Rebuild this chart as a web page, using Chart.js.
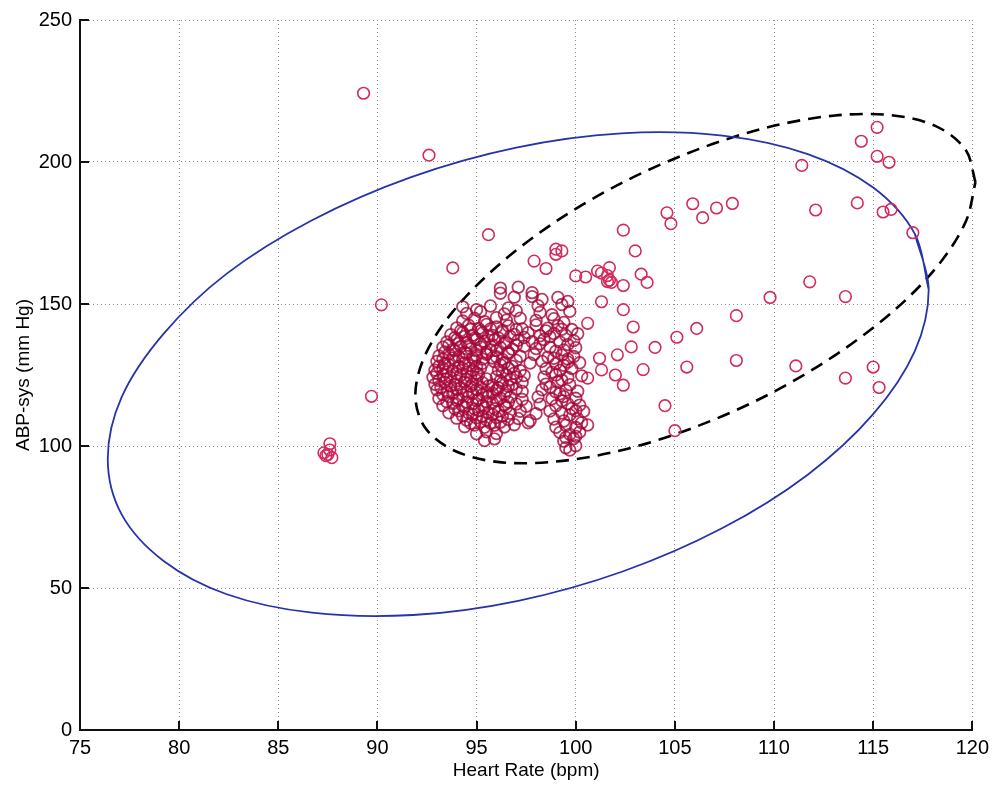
<!DOCTYPE html>
<html>
<head>
<meta charset="utf-8">
<script src="https://cdn.jsdelivr.net/npm/chart.js@4/dist/chart.umd.min.js"></script>
<style>
  html, body { margin: 0; padding: 0; background: #ffffff; }
  canvas { display: block; }
</style>
</head>
<body>
<canvas id="chart" width="995" height="785"></canvas>
<script>
// Axis ranges and tick labels
const heartRateTicks = [75, 80, 85, 90, 95, 100, 105, 110, 115, 120];
const abpTicks = [0, 50, 100, 150, 200, 250];

// Beats lying away from the main group: [heart rate (bpm), ABP-sys (mm Hg)]
const spreadBeats = [
  [89.3, 224.2], [92.6, 202.4], [95.6, 174.4], [93.8, 162.7], [90.2, 149.7], [89.7, 117.5],
  [87.3, 97.6], [87.6, 100.8], [87.5, 97.0], [87.7, 95.9], [87.4, 96.6], [87.6, 98.6],
  [115.2, 212.2], [114.4, 207.3], [115.2, 202.0], [115.8, 199.9], [111.4, 198.8], [114.2, 185.6],
  [112.1, 183.1], [115.5, 182.4], [115.9, 183.3], [117.0, 175.1],
  [104.6, 182.1], [104.8, 178.3], [105.9, 185.3], [106.4, 180.4], [107.1, 183.8], [107.9, 185.4],
  [102.4, 176.0], [103.0, 168.7], [103.3, 160.5], [103.6, 157.6], [101.7, 162.8], [101.6, 160.0],
  [101.7, 158.4], [101.8, 157.6], [101.6, 157.9], [102.4, 156.5], [101.3, 160.9], [101.1, 161.6],
  [101.3, 150.8], [102.4, 148.0], [102.9, 141.9], [102.8, 134.9], [102.1, 132.1], [101.2, 130.9],
  [101.3, 126.8], [100.6, 123.9], [102.0, 125.0], [102.4, 121.4], [103.4, 126.9], [104.0, 134.7],
  [105.1, 138.3], [106.1, 141.4], [108.1, 145.9], [109.8, 152.3], [111.8, 157.8], [113.6, 152.6],
  [105.6, 127.8], [108.1, 130.1], [111.1, 128.2], [115.0, 127.8], [113.6, 123.9], [115.3, 120.6],
  [104.5, 114.2], [105.0, 105.4],
  [99.0, 169.3], [99.3, 168.7], [99.0, 167.5], [97.9, 165.1], [98.5, 162.5], [100.0, 159.9],
  [100.5, 159.5], [100.6, 143.2]
];

// Main group of beats around 93-101 bpm
const coreBeats = [
  [96.2, 155.6], [97.1, 155.9], [97.8, 154.0],
  [96.9, 152.4], [97.8, 152.6], [98.3, 151.6], [99.1, 152.3], [99.6, 150.9], [96.2, 153.8],
  [95.7, 149.3], [96.6, 148.6], [98.1, 149.4], [99.3, 149.8], [94.3, 149.0], [95.0, 148.0],
  [94.5, 146.7], [95.2, 147.3], [96.4, 146.5], [97.0, 147.6], [98.2, 147.0], [98.8, 146.2], [99.7, 147.4],
  [94.3, 144.0], [94.9, 144.9], [95.4, 143.8], [96.0, 145.2], [96.5, 144.3], [97.2, 145.0], [98.0, 144.2],
  [98.9, 144.8], [99.4, 143.5],
  [94.0, 141.6], [94.6, 142.5], [95.1, 141.4], [95.5, 142.8], [96.0, 141.9], [96.6, 142.3], [97.3, 141.2],
  [98.0, 142.6], [98.6, 141.5], [99.1, 142.4], [99.8, 141.0],
  [93.7, 139.2], [94.3, 140.0], [94.8, 139.0], [95.3, 139.8], [95.8, 138.9], [96.3, 140.1], [96.9, 139.3],
  [97.6, 139.9], [98.2, 138.8], [98.9, 139.6], [99.5, 138.9], [100.1, 139.5],
  [93.5, 136.6], [94.0, 137.4], [94.5, 136.5], [95.0, 137.6], [95.4, 136.8], [95.9, 137.3], [96.5, 136.4],
  [97.1, 137.2], [97.8, 136.7], [98.4, 137.5], [99.2, 136.6], [99.9, 137.1],
  [93.3, 134.8], [93.8, 134.0], [94.2, 135.0], [94.7, 134.2], [95.2, 134.9], [95.7, 133.9], [96.2, 134.7],
  [96.8, 134.1], [97.4, 135.1], [98.0, 134.3], [98.7, 134.8], [99.4, 133.8], [100.0, 134.6],
  [93.1, 131.7], [93.6, 132.4], [94.1, 131.5], [94.5, 132.6], [95.0, 131.8], [95.5, 132.3], [96.0, 131.4],
  [96.6, 132.5], [97.2, 131.6], [97.9, 132.2], [98.6, 131.3], [99.3, 132.0], [99.9, 131.5],
  [93.0, 129.8], [93.4, 129.0], [93.9, 129.9], [94.4, 129.2], [94.9, 130.0], [95.3, 129.1], [95.9, 129.7],
  [96.4, 129.3], [97.0, 130.1], [97.7, 129.2], [98.3, 129.8], [99.0, 129.0], [99.6, 129.6], [100.2, 129.3],
  [92.9, 126.7], [93.3, 127.4], [93.8, 126.5], [94.3, 127.3], [94.8, 126.6], [95.2, 127.5], [96.1, 126.8],
  [96.6, 127.4], [97.2, 126.5], [98.5, 127.2], [99.2, 126.6], [99.8, 127.3],
  [92.8, 124.2], [93.3, 125.0], [93.7, 124.1], [94.2, 124.9], [94.7, 124.3], [95.1, 125.1], [96.0, 124.4],
  [96.5, 125.0], [97.0, 124.2], [97.4, 124.8], [98.4, 124.3], [99.0, 125.0], [99.6, 124.1], [100.3, 124.7],
  [92.9, 121.7], [93.4, 122.4], [93.9, 121.6], [94.4, 122.5], [94.8, 121.8], [95.3, 122.3], [95.8, 121.5],
  [96.3, 122.2], [96.8, 121.6], [97.3, 122.4], [98.5, 121.8], [99.1, 122.5], [99.7, 121.6],
  [93.0, 119.8], [93.5, 119.1], [94.0, 120.0], [94.5, 119.2], [95.0, 119.9], [95.5, 119.0], [96.0, 119.7],
  [96.5, 119.3], [97.0, 120.1], [97.3, 119.2], [98.3, 119.8], [99.0, 119.0], [99.5, 119.6], [100.1, 119.3],
  [93.1, 116.7], [93.6, 117.4], [94.1, 116.6], [94.6, 117.3], [95.1, 116.5], [95.6, 117.5], [96.2, 116.8],
  [96.7, 117.2], [97.3, 116.4], [98.1, 117.3], [98.8, 116.6], [99.4, 117.4], [100.0, 116.8],
  [93.3, 114.2], [93.8, 115.0], [94.3, 114.1], [94.8, 114.9], [95.3, 114.3], [95.8, 115.1], [96.4, 114.4],
  [97.0, 114.8], [97.5, 114.0], [98.2, 114.7], [99.0, 114.2], [99.6, 114.9], [100.2, 114.4],
  [93.6, 111.7], [94.1, 112.4], [94.6, 111.6], [95.1, 112.5], [95.6, 111.8], [96.1, 112.3], [96.7, 111.5],
  [97.2, 112.2], [98.0, 111.4], [98.7, 112.3], [99.3, 111.6], [100.0, 112.4], [100.4, 112.2],
  [94.0, 109.8], [94.5, 109.1], [95.0, 109.9], [95.5, 109.2], [96.0, 110.0], [96.6, 109.3], [97.1, 109.7],
  [97.7, 108.9], [98.9, 109.5], [99.4, 108.8], [100.1, 109.6], [97.6, 108.2],
  [94.4, 106.8], [94.9, 107.4], [95.4, 106.6], [95.9, 107.3], [96.4, 106.7], [96.9, 107.5], [99.0, 106.6],
  [99.5, 107.3], [100.0, 106.5], [100.6, 107.4],
  [95.0, 104.3], [95.5, 105.0], [96.0, 104.4], [99.2, 104.8], [99.7, 104.1], [100.2, 104.9],
  [95.4, 101.9], [95.9, 102.5], [99.4, 101.7], [99.9, 102.6],
  [99.5, 99.4], [100.0, 100.1], [99.7, 98.6],
  // second, interleaved pass through the densest part
  [94.2, 140.6], [94.7, 141.1], [95.2, 140.5], [95.7, 141.2], [96.3, 140.7], [97.0, 141.0], [98.5, 140.5], [99.3, 141.1],
  [93.9, 138.1], [94.4, 138.6], [94.9, 138.0], [95.6, 138.5], [96.1, 138.0], [96.7, 138.6], [97.4, 138.2], [98.7, 138.5],
  [93.6, 135.6], [94.1, 136.1], [94.6, 135.5], [95.2, 136.0], [95.8, 135.6], [96.4, 136.1], [97.0, 135.5], [98.2, 136.0], [99.6, 135.7],
  [93.4, 133.1], [93.9, 133.6], [94.4, 133.0], [95.0, 133.5], [95.5, 133.1], [96.0, 133.6], [96.6, 133.0], [99.0, 133.4],
  [93.3, 130.6], [93.8, 131.0], [94.3, 130.5], [94.8, 131.1], [95.3, 130.6], [95.8, 131.0], [96.3, 130.5], [98.9, 130.9], [99.6, 130.6],
  [93.1, 128.1], [93.6, 128.6], [94.1, 128.0], [94.6, 128.5], [95.0, 128.1], [96.2, 128.6], [96.8, 128.0], [99.4, 128.4],
  [93.0, 125.6], [93.5, 126.1], [94.0, 125.5], [94.5, 126.0], [95.0, 125.6], [96.3, 126.0], [96.9, 125.6], [98.8, 126.0],
  [93.1, 123.1], [93.5, 123.6], [94.0, 123.0], [94.5, 123.5], [95.0, 123.1], [95.5, 123.6], [96.2, 123.0], [96.7, 123.5], [99.3, 123.2],
  [93.2, 120.6], [93.7, 121.1], [94.2, 120.5], [94.7, 121.0], [95.2, 120.6], [95.6, 121.1], [96.1, 120.5], [96.6, 121.0], [98.7, 120.7],
  [93.3, 118.1], [93.8, 118.6], [94.3, 118.0], [94.8, 118.5], [95.3, 118.1], [95.8, 118.6], [96.4, 118.0], [99.2, 118.4],
  [93.5, 115.6], [94.0, 116.1], [94.5, 115.5], [95.0, 116.0], [95.5, 115.6], [96.0, 116.1], [96.6, 115.5], [99.3, 115.9],
  [93.9, 113.1], [94.4, 113.6], [94.9, 113.0], [95.4, 113.5], [95.9, 113.1], [96.5, 113.6], [99.8, 113.2],
  [94.3, 110.6], [94.8, 111.0], [95.3, 110.5], [95.8, 111.1], [96.3, 110.6], [99.7, 110.9],
  [94.7, 108.0], [95.2, 108.5], [95.7, 108.1], [96.2, 108.4], [100.3, 108.2],
  [99.5, 103.0], [100.0, 103.4]
];

// Outline of the wide region (solid), points taken around the curve
const wideRegion = [
  [117.8, 155.1], [117.1, 174.7], [115.0, 191.0], [111.7, 202.8], [107.4, 209.3], [102.3, 210.1],
  [97.0, 205.1], [91.7, 194.7], [86.7, 179.5], [82.4, 160.7], [79.2, 139.4], [77.1, 117.2],
  [76.4, 95.5], [77.1, 75.9], [79.2, 59.6], [82.4, 47.8], [86.7, 41.3], [91.8, 40.5],
  [97.1, 45.5], [102.4, 55.9], [107.4, 71.1], [111.7, 89.9], [115.0, 111.2], [117.1, 133.4],
  [117.8, 155.1], [117.1, 174.7]
];

// Outline of the narrow region (dashed)
const narrowRegion = [
  [120.16, 192.9], [119.67, 204.2], [118.26, 212.3], [116.02, 216.4], [113.09, 216.4], [109.69, 212.2],
  [106.03, 204.1], [102.37, 192.8], [98.97, 178.9], [96.04, 163.3], [93.8, 147.3], [92.39, 131.8],
  [91.91, 117.9], [92.39, 106.6], [93.8, 98.6], [96.04, 94.4], [98.97, 94.5], [102.37, 98.6],
  [106.03, 106.7], [109.69, 118.0], [113.09, 132.0], [116.02, 147.5], [118.26, 163.5], [119.67, 179.0],
  [120.16, 192.9]
];

const toXY = (rows) => rows.map(([x, y]) => ({ x, y }));

const FONT = "'Liberation Sans', Arial, Helvetica, sans-serif";

// Short tick marks pointing into the plot from the left and bottom axes
const inwardTicks = {
  id: 'inwardTicks',
  afterDraw(chart) {
    const { ctx, chartArea: a, scales: { x, y } } = chart;
    ctx.save();
    ctx.strokeStyle = '#111';
    ctx.lineWidth = 2;
    ctx.beginPath();
    x.ticks.forEach(t => {
      const px = Math.round(x.getPixelForValue(t.value));
      ctx.moveTo(px, a.bottom);
      ctx.lineTo(px, a.bottom - 9);
    });
    y.ticks.forEach(t => {
      const py = Math.round(y.getPixelForValue(t.value));
      ctx.moveTo(a.left, py);
      ctx.lineTo(a.left + 9, py);
    });
    ctx.stroke();
    ctx.restore();
  }
};

const whiteBackground = {
  id: 'whiteBackground',
  beforeDraw(chart) {
    const { ctx, width, height } = chart;
    ctx.save();
    ctx.fillStyle = '#ffffff';
    ctx.fillRect(0, 0, width, height);
    ctx.restore();
  }
};

new Chart(document.getElementById('chart'), {
  type: 'scatter',
  data: {
    datasets: [
      {
        label: 'core',
        data: toXY(coreBeats),
        pointStyle: 'circle',
        pointRadius: 5.8,
        pointBorderWidth: 1.8,
        pointBackgroundColor: 'rgba(0,0,0,0)',
        pointBorderColor: 'rgba(165,8,58,0.8)',
        showLine: false
      },
      {
        label: 'spread',
        data: toXY(spreadBeats),
        pointStyle: 'circle',
        pointRadius: 5.8,
        pointBorderWidth: 1.6,
        pointBackgroundColor: 'rgba(0,0,0,0)',
        pointBorderColor: 'rgb(212,42,92)',
        showLine: false
      },
      {
        label: 'wide',
        data: toXY(wideRegion),
        showLine: true,
        pointRadius: 0,
        borderColor: 'rgb(40,50,170)',
        borderWidth: 1.8,
        tension: 0.33,
        fill: false
      },
      {
        label: 'narrow',
        data: toXY(narrowRegion),
        showLine: true,
        pointRadius: 0,
        borderColor: '#000000',
        borderWidth: 2.6,
        borderDash: [13, 8],
        tension: 0.33,
        fill: false,
        clip: false
      }
    ]
  },
  options: {
    responsive: false,
    animation: false,
    events: [],
    layout: { padding: { top: 17, right: 18, left: 0, bottom: 0 } },
    elements: { line: { capBezierPoints: false } },
    plugins: {
      legend: { display: false },
      tooltip: { enabled: false }
    },
    scales: {
      x: {
        type: 'linear',
        min: heartRateTicks[0],
        max: heartRateTicks[heartRateTicks.length - 1],
        afterBuildTicks(scale) { scale.ticks = heartRateTicks.map(v => ({ value: v })); },
        afterFit(scale) { scale.height = 55; },
        grid: { color: '#8a8a8a', lineWidth: 1, drawTicks: false },
        border: { display: true, color: '#111', width: 2, dash: [1, 3] },
        ticks: {
          color: '#000',
          padding: 6,
          font: { family: FONT, size: 20 },
          maxRotation: 0,
          callback: v => String(v)
        },
        title: {
          display: true,
          text: 'Heart Rate (bpm)',
          color: '#000',
          font: { family: FONT, size: 19 },
          padding: { top: 0, bottom: 3 }
        }
      },
      y: {
        type: 'linear',
        min: abpTicks[0],
        max: abpTicks[abpTicks.length - 1],
        afterBuildTicks(scale) { scale.ticks = abpTicks.map(v => ({ value: v })); },
        afterFit(scale) { scale.width = 80; },
        grid: { color: '#8a8a8a', lineWidth: 1, drawTicks: false },
        border: { display: true, color: '#111', width: 2, dash: [1, 3] },
        ticks: {
          color: '#000',
          padding: 8,
          font: { family: FONT, size: 20 },
          callback: v => String(v)
        },
        title: {
          display: true,
          text: 'ABP-sys (mm Hg)',
          color: '#000',
          font: { family: FONT, size: 19 },
          padding: { top: 12, bottom: 0 }
        }
      }
    }
  },
  plugins: [whiteBackground, inwardTicks]
});
</script>
</body>
</html>
